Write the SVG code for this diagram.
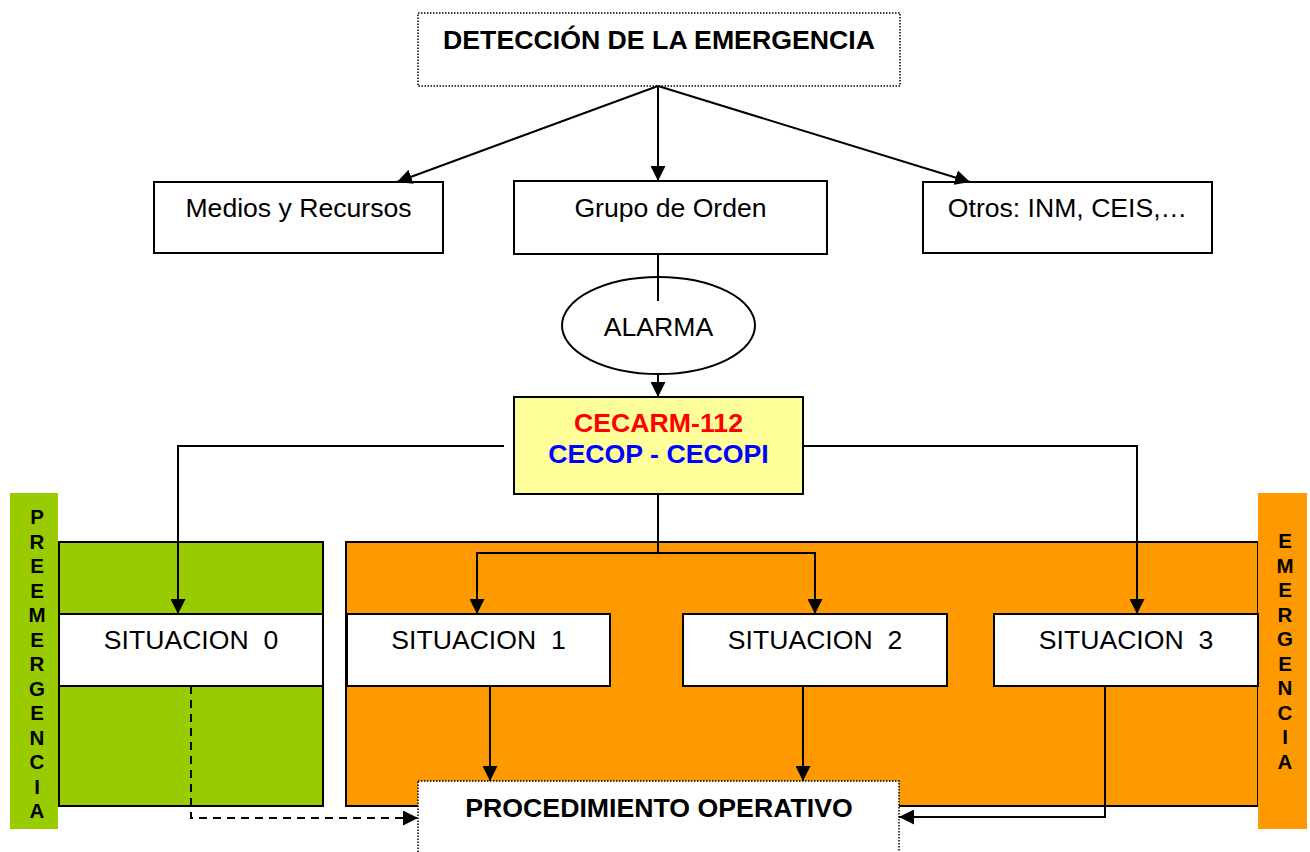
<svg xmlns="http://www.w3.org/2000/svg" width="1310" height="852" viewBox="0 0 1310 852">
<style>
  text { font-family: "Liberation Sans", Arial, sans-serif; fill: #000; }
  .n { font-size: 26.6px; text-anchor: middle; }
  .b { font-size: 26.7px; font-weight: bold; text-anchor: middle; }
  .v { font-size: 20.5px; font-weight: bold; text-anchor: middle; }
  .box { fill: #fff; stroke: #000; stroke-width: 2; }
  .dot { fill: #fff; stroke: #000; stroke-width: 1.5; stroke-dasharray: 1.5 1.5; }
  .ln { fill: none; stroke: #000; stroke-width: 2; }
  .arr { marker-end: url(#ah); }
  .dash { stroke-dasharray: 8 6; }
</style>
<defs>
  <marker id="ah" markerUnits="userSpaceOnUse" markerWidth="15" markerHeight="15" refX="15" refY="7.5" orient="auto">
    <path d="M0,0 L15,7.5 L0,15 z" fill="#000"/>
  </marker>
</defs>
<rect width="1310" height="852" fill="#fff"/>

<g id="emergencia-zone">
  <rect x="346" y="542" width="912" height="264" fill="#FF9900" stroke="#000" stroke-width="2"/>
</g>
<g id="preemergencia-zone">
  <rect x="59" y="542" width="264" height="264" fill="#99CC00" stroke="#000" stroke-width="2"/>
</g>
<g id="bar-preemergencia">
  <rect x="10" y="493" width="48" height="336" fill="#99CC00"/>
  <text class="v"><tspan x="37" y="524">P</tspan><tspan x="37" dy="24.5">R</tspan><tspan x="37" dy="24.5">E</tspan><tspan x="37" dy="24.5">E</tspan><tspan x="37" dy="24.5">M</tspan><tspan x="37" dy="24.5">E</tspan><tspan x="37" dy="24.5">R</tspan><tspan x="37" dy="24.5">G</tspan><tspan x="37" dy="24.5">E</tspan><tspan x="37" dy="24.5">N</tspan><tspan x="37" dy="24.5">C</tspan><tspan x="37" dy="24.5">I</tspan><tspan x="37" dy="24.5">A</tspan></text>
</g>
<g id="bar-emergencia">
  <rect x="1258" y="493" width="49" height="336" fill="#FF9900"/>
  <text class="v"><tspan x="1285" y="548">E</tspan><tspan x="1285" dy="24.5">M</tspan><tspan x="1285" dy="24.5">E</tspan><tspan x="1285" dy="24.5">R</tspan><tspan x="1285" dy="24.5">G</tspan><tspan x="1285" dy="24.5">E</tspan><tspan x="1285" dy="24.5">N</tspan><tspan x="1285" dy="24.5">C</tspan><tspan x="1285" dy="24.5">I</tspan><tspan x="1285" dy="24.5">A</tspan></text>
</g>

<g id="deteccion">
  <rect class="dot" x="418" y="13" width="482" height="73"/>
  <text class="b" x="659" y="49">DETECCIÓN DE LA EMERGENCIA</text>
</g>
<g id="medios">
  <rect class="box" x="154" y="182" width="289" height="71"/>
  <text class="n" x="298.5" y="217">Medios y Recursos</text>
</g>
<g id="grupo">
  <rect class="box" x="514" y="181" width="313" height="73"/>
  <text class="n" x="670.5" y="217">Grupo de Orden</text>
</g>
<g id="otros">
  <rect class="box" x="923" y="182" width="289" height="71"/>
  <text class="n" x="1067.5" y="217">Otros: INM, CEIS,…</text>
</g>
<g id="alarma">
  <ellipse cx="658.5" cy="325.5" rx="96.5" ry="48.5" fill="#fff" stroke="#000" stroke-width="2"/>
  <text class="n" x="658.5" y="336">ALARMA</text>
</g>
<g id="cecarm">
  <rect x="514" y="397" width="289" height="97" fill="#FFFF99" stroke="#000" stroke-width="2"/>
  <text class="b" x="658.5" y="432" style="fill:#FF0000">CECARM-112</text>
  <text class="b" x="658.5" y="463" style="fill:#0000FF">CECOP - CECOPI</text>
</g>
<g id="situacion0">
  <rect class="box" x="59" y="614" width="264" height="72"/>
  <text class="n" x="191" y="649" xml:space="preserve">SITUACION  0</text>
</g>
<g id="situacion1">
  <rect class="box" x="347" y="614" width="263" height="72"/>
  <text class="n" x="478.5" y="649" xml:space="preserve">SITUACION  1</text>
</g>
<g id="situacion2">
  <rect class="box" x="683" y="614" width="264" height="72"/>
  <text class="n" x="815" y="649" xml:space="preserve">SITUACION  2</text>
</g>
<g id="situacion3">
  <rect class="box" x="994" y="614" width="264" height="72"/>
  <text class="n" x="1126" y="649" xml:space="preserve">SITUACION  3</text>
</g>
<g id="procedimiento">
  <rect class="dot" x="418" y="781" width="481" height="90"/>
  <text class="b" x="659" y="817">PROCEDIMIENTO OPERATIVO</text>
</g>

<g id="connectors">
  <path class="ln arr" d="M658,86 L397,182"/>
  <path class="ln arr" d="M658,86 L658,181"/>
  <path class="ln arr" d="M658,86 L970,182"/>
  <path class="ln" d="M658,254 L658,301"/>
  <path class="ln arr" d="M658,374 L658,397"/>
  <path class="ln arr" d="M504,446 L178,446 L178,614"/>
  <path class="ln arr" d="M803,446 L1137,446 L1137,614"/>
  <path class="ln" d="M658,494 L658,553"/>
  <path class="ln arr" d="M658,553 L477,553 L477,614"/>
  <path class="ln arr" d="M658,553 L815,553 L815,614"/>
  <path class="ln arr" d="M490,686 L490,781"/>
  <path class="ln arr" d="M803,686 L803,781"/>
  <path class="ln arr dash" d="M191,686 L191,818 L418,818"/>
  <path class="ln arr" d="M1105,686 L1105,817 L899,817"/>
</g>
</svg>
